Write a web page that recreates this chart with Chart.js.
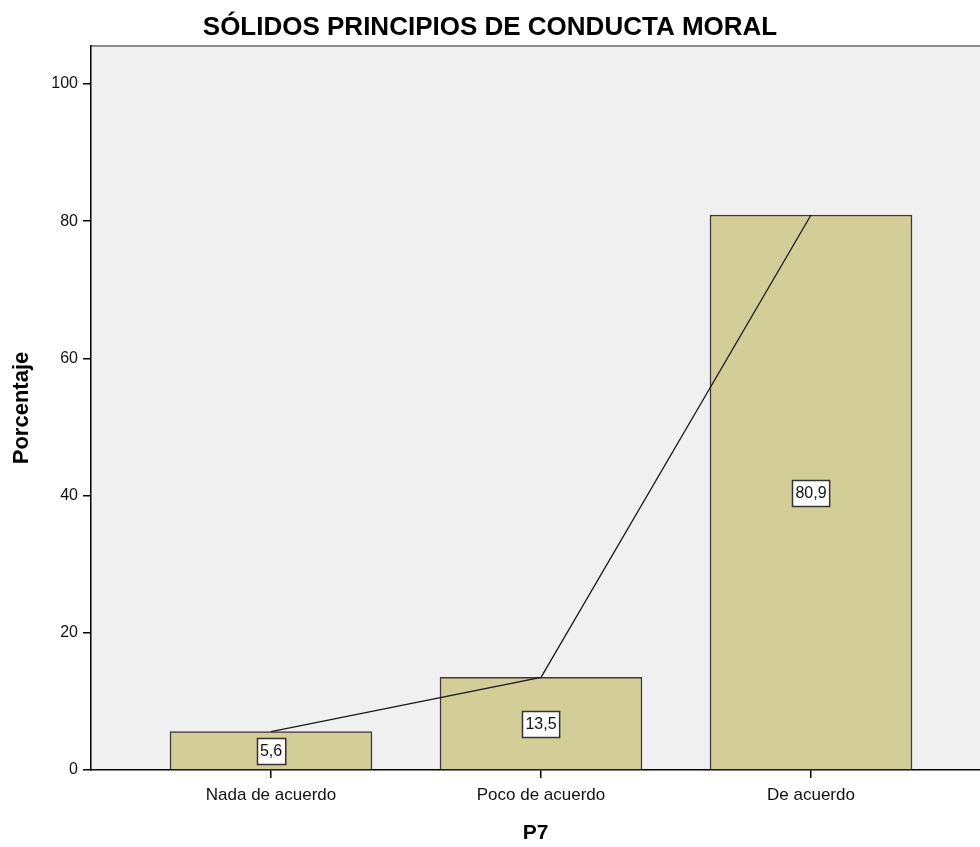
<!DOCTYPE html>
<html>
<head>
<meta charset="utf-8">
<script src="https://cdn.jsdelivr.net/npm/chart.js@4.4.0/dist/chart.umd.min.js"></script>
<style>
html,body{margin:0;padding:0;background:#fff;overflow:hidden;}
#wrap{width:980px;height:847px;position:relative;}
</style>
</head>
<body>
<div id="wrap"><canvas id="c" width="980" height="847"></canvas></div>
<script>
const chartTitle = 'SÓLIDOS PRINCIPIOS DE CONDUCTA MORAL';
const xAxisTitle = 'P7';
const yAxisTitle = 'Porcentaje';
const categories = ['Nada de acuerdo', 'Poco de acuerdo', 'De acuerdo'];
const percentages = [5.6, 13.5, 80.9];
const yTicks = [0, 20, 40, 60, 80, 100];

const FONT = "'Liberation Sans', Arial, sans-serif";

const plotBg = {
  id: 'plotBg',
  beforeDraw(chart) {
    const {ctx, chartArea: a} = chart;
    ctx.save();
    ctx.fillStyle = '#f0f0f0';
    ctx.fillRect(a.left, a.top, a.right - a.left, a.bottom - a.top);
    ctx.strokeStyle = '#8a8a8a';
    ctx.lineWidth = 2;
    ctx.beginPath();
    ctx.moveTo(a.left, a.top);
    ctx.lineTo(a.right, a.top);
    ctx.stroke();
    ctx.restore();
  }
};

const valueLabels = {
  id: 'valueLabels',
  afterDatasetsDraw(chart) {
    const {ctx} = chart;
    const meta = chart.getDatasetMeta(0);
    const ys = chart.scales.y;
    ctx.save();
    ctx.font = '16px ' + FONT;
    ctx.textAlign = 'center';
    ctx.textBaseline = 'middle';
    meta.data.forEach((bar, i) => {
      const v = percentages[i];
      const txt = v.toFixed(1).replace('.', ',');
      const cy = ys.getPixelForValue(v / 2);
      const w = ctx.measureText(txt).width + 6;
      const h = 26;
      const x0 = Math.round(bar.x - w / 2) + 0.5;
      const y0 = Math.round(cy - h / 2) + 0.5;
      ctx.fillStyle = '#ffffff';
      ctx.fillRect(x0, y0, w, h);
      ctx.strokeStyle = '#333333';
      ctx.lineWidth = 1.5;
      ctx.strokeRect(x0, y0, w, h);
      ctx.fillStyle = '#111111';
      ctx.fillText(txt, bar.x, cy + 1);
    });
    ctx.restore();
  }
};

new Chart(document.getElementById('c'), {
  data: {
    datasets: [
      {
        type: 'bar',
        data: percentages.map((v, i) => ({x: i + 1, y: v})),
        backgroundColor: '#d3ce97',
        borderColor: '#3a3a3a',
        borderWidth: 1.5,
        barThickness: 202,
        order: 2
      },
      {
        type: 'line',
        data: percentages.map((v, i) => ({x: i + 1, y: v})),
        borderColor: '#1a1a1a',
        borderWidth: 1.3,
        pointRadius: 0,
        tension: 0,
        fill: false,
        order: 1
      }
    ]
  },
  options: {
    responsive: false,
    animation: false,
    devicePixelRatio: 1,
    layout: {padding: 0},
    plugins: {
      legend: {display: false},
      tooltip: {enabled: false},
      title: {
        display: true,
        text: chartTitle,
        color: '#000',
        font: {family: FONT, size: 26, weight: 'bold'},
        padding: {top: 12, bottom: 2.8}
      }
    },
    scales: {
      x: {
        type: 'linear',
        min: 1 - 180 / 270,
        max: 3 + 169 / 270,
        offset: false,
        afterBuildTicks(s) { s.ticks = categories.map((c, i) => ({value: i + 1})); },
        afterFit(s) { s.height = 77; },
        border: {display: true, color: '#000', width: 1.5},
        grid: {offset: false, drawOnChartArea: false, drawTicks: true, tickLength: 8, color: '#000', lineWidth: 1.5},
        ticks: {
          padding: 7,
          color: '#111',
          font: {family: FONT, size: 17},
          callback: (v) => categories[Math.round(v) - 1] || ''
        },
        title: {
          display: true,
          text: xAxisTitle,
          color: '#000',
          font: {family: FONT, size: 21, weight: 'bold'},
          padding: {top: 0, bottom: 1}
        }
      },
      y: {
        type: 'linear',
        min: 0,
        max: 724 / 6.86,
        afterBuildTicks(s) { s.ticks = yTicks.map(v => ({value: v})); },
        afterFit(s) { s.width = 91; },
        border: {display: true, color: '#000', width: 1.5},
        grid: {drawOnChartArea: false, drawTicks: true, tickLength: 8, color: '#000', lineWidth: 1.5},
        ticks: {
          padding: 5,
          color: '#111',
          font: {family: FONT, size: 16},
          callback: (v) => String(v)
        },
        title: {
          display: true,
          text: yAxisTitle,
          color: '#000',
          font: {family: FONT, size: 22, weight: 'bold'},
          padding: {top: 9, bottom: 0}
        }
      }
    }
  },
  plugins: [plotBg, valueLabels]
});
</script>
</body>
</html>
